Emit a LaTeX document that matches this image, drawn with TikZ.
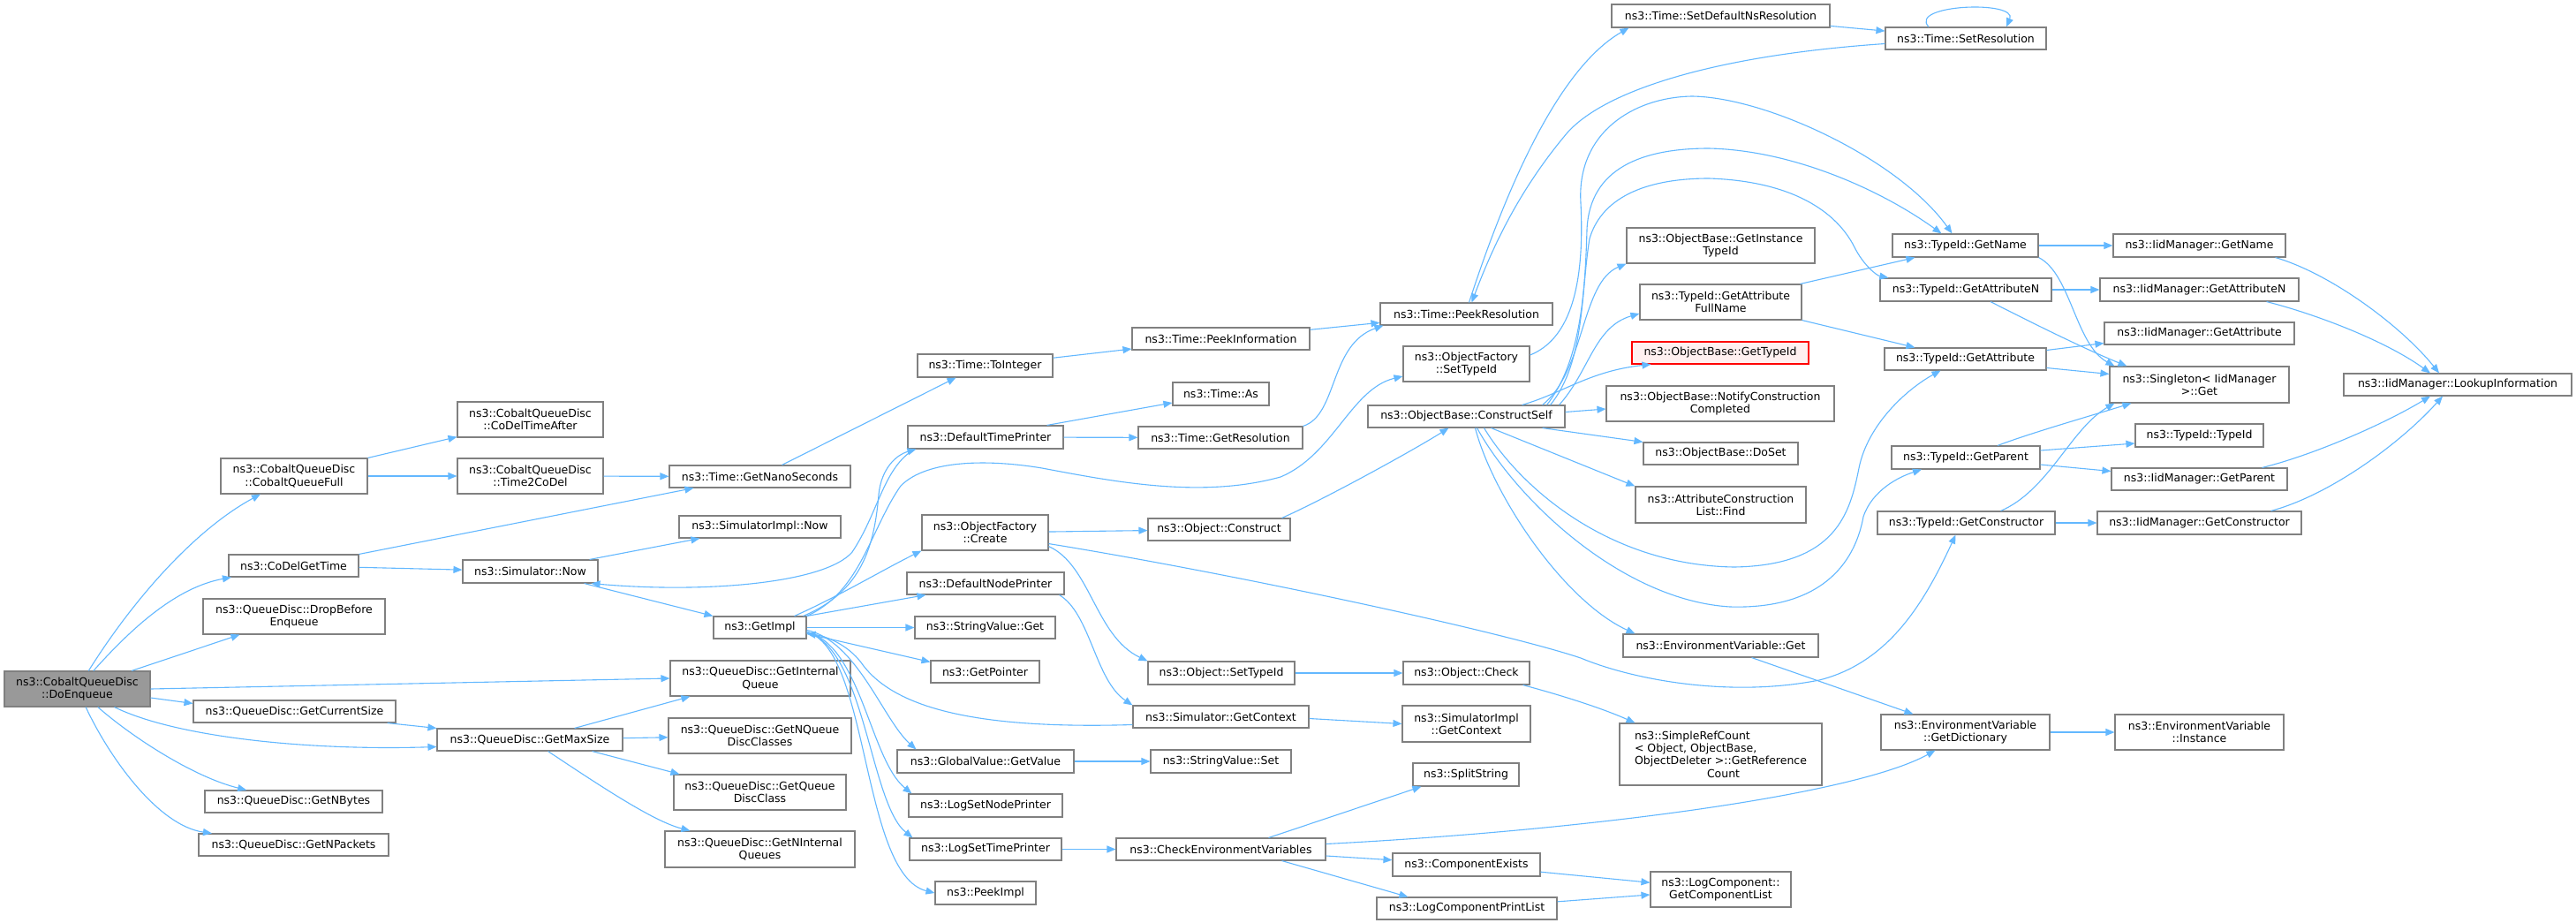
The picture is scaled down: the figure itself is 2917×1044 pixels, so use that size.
\documentclass[tikz,border=0pt]{standalone}
\usepackage{fontspec}
\setmainfont{DejaVu Sans}
\usetikzlibrary{arrows.meta}
\definecolor{edgec}{HTML}{63B8FF}
\definecolor{boxc}{HTML}{808080}
\definecolor{hilite}{HTML}{999999}
\definecolor{redfill}{HTML}{FFF0F0}
\tikzset{
  box/.style={draw=boxc,line width=1.1pt,fill=white,inner sep=0pt,align=center,
    font=\fontsize{12.5}{14.3}\selectfont},
  cur/.style={fill=hilite,draw=boxc},
  redbox/.style={draw=red,fill=redfill},
  e/.style={draw=edgec,line width=1.1pt,-{Triangle[length=10pt,width=8pt]}}
}
\newcommand{\nb}[7][]{\node[box,#1,minimum width={(#5)-(#3)},minimum height={(#6)-(#4)}] (#2) at ({(#3+#5)/2},{(#4+#6)/2}) {#7};}
\begin{document}
\begin{tikzpicture}[x=1pt,y=-1pt]
\fill[white] (0,0) rectangle (2917,1044);
\useasboundingbox (0,0) rectangle (2917,1044);
% column 1-2
\nb[cur]{DoEnqueue}{5}{760}{170}{800}{ns3::CobaltQueueDisc\\::DoEnqueue}
\nb{CobaltQueueFull}{250}{519}{416}{559}{ns3::CobaltQueueDisc\\::CobaltQueueFull}
\nb{CoDelGetTime}{259}{628}{406}{653}{ns3::CoDelGetTime}
\nb{DropBefore}{230}{678}{436}{718}{ns3::QueueDisc::DropBefore\\Enqueue}
\nb{GetCurrentSize}{219}{793}{448}{818}{ns3::QueueDisc::GetCurrentSize}
\nb{GetNBytes}{232}{895}{433}{920}{ns3::QueueDisc::GetNBytes}
\nb{GetNPackets}{225}{944}{440}{969}{ns3::QueueDisc::GetNPackets}
\nb{CoDelTimeAfter}{518}{455}{683}{495}{ns3::CobaltQueueDisc\\::CoDelTimeAfter}
\nb{Time2CoDel}{518}{519}{683}{559}{ns3::CobaltQueueDisc\\::Time2CoDel}
\nb{SimNow}{524}{634}{677}{660}{ns3::Simulator::Now}
\nb{GetMaxSize}{495}{825}{705}{850}{ns3::QueueDisc::GetMaxSize}
% column 3
\nb{GetNanoSeconds}{758}{527}{963}{552}{ns3::Time::GetNanoSeconds}
\nb{SimImplNow}{769}{584}{952}{609}{ns3::SimulatorImpl::Now}
\nb{GetImpl}{808}{698}{913}{723}{ns3::GetImpl}
\nb{GetInternalQueue}{759}{748}{963}{788}{ns3::QueueDisc::GetInternal\\Queue}
\nb{GetNQDC}{757}{813}{964}{853}{ns3::QueueDisc::GetNQueue\\DiscClasses}
\nb{GetQDC}{763}{877}{958}{917}{ns3::QueueDisc::GetQueue\\DiscClass}
\nb{GetNIQ}{753}{941}{968}{982}{ns3::QueueDisc::GetNInternal\\Queues}
% column 4
\nb{ToInteger}{1039}{401}{1192}{427}{ns3::Time::ToInteger}
\nb{DefTimePrinter}{1028}{482}{1204}{508}{ns3::DefaultTimePrinter}
\nb{OFCreate}{1044}{583}{1187}{623}{ns3::ObjectFactory\\::Create}
\nb{DefNodePrinter}{1027}{648}{1205}{673}{ns3::DefaultNodePrinter}
\nb{SVGet}{1036}{698}{1195}{723}{ns3::StringValue::Get}
\nb{GetPointer}{1054}{748}{1177}{773}{ns3::GetPointer}
\nb{GVGetValue}{1016}{849}{1216}{875}{ns3::GlobalValue::GetValue}
\nb{LogSetNodePrinter}{1029}{899}{1203}{925}{ns3::LogSetNodePrinter}
\nb{LogSetTimePrinter}{1030}{949}{1202}{974}{ns3::LogSetTimePrinter}
\nb{PeekImpl}{1059}{998}{1173}{1024}{ns3::PeekImpl}
% column 5
\nb{PeekInformation}{1282}{371}{1483}{396}{ns3::Time::PeekInformation}
\nb{TimeAs}{1328}{433}{1437}{459}{ns3::Time::As}
\nb{GetResolution}{1289}{483}{1475}{508}{ns3::Time::GetResolution}
\nb{ObjConstruct}{1300}{587}{1461}{612}{ns3::Object::Construct}
\nb{ObjSetTypeId}{1300}{749}{1466}{775}{ns3::Object::SetTypeId}
\nb{SimGetContext}{1283}{799}{1482}{824}{ns3::Simulator::GetContext}
\nb{SVSet}{1303}{849}{1462}{875}{ns3::StringValue::Set}
\nb{CheckEnv}{1264}{949}{1501}{974}{ns3::CheckEnvironmentVariables}
% column 6
\nb{PeekResolution}{1563}{343}{1758}{368}{ns3::Time::PeekResolution}
\nb{OFSetTypeId}{1589}{392}{1732}{432}{ns3::ObjectFactory\\::SetTypeId}
\nb{ConstructSelf}{1549}{459}{1772}{484}{ns3::ObjectBase::ConstructSelf}
\nb{ObjCheck}{1589}{749}{1732}{775}{ns3::Object::Check}
\nb{SimImplGetContext}{1588}{799}{1733}{840}{ns3::SimulatorImpl\\::GetContext}
\nb{SplitString}{1600}{864}{1720}{890}{ns3::SplitString}
\nb{ComponentExists}{1577}{966}{1744}{992}{ns3::ComponentExists}
\nb{LogCompPrintList}{1559}{1016}{1763}{1041}{ns3::LogComponentPrintList}
% column 7
\nb{SetDefaultNs}{1825}{5}{2072}{31}{ns3::Time::SetDefaultNsResolution}
\nb{GetInstanceTypeId}{1842}{258}{2055}{298}{ns3::ObjectBase::GetInstance\\TypeId}
\nb{GetAttrFullName}{1857}{322}{2040}{362}{ns3::TypeId::GetAttribute\\FullName}
\nb[redbox]{OBGetTypeId}{1848}{387}{2048}{412}{ns3::ObjectBase::GetTypeId}
\nb{NotifyCC}{1819}{437}{2077}{477}{ns3::ObjectBase::NotifyConstruction\\Completed}
\nb{DoSet}{1861}{501}{2036}{526}{ns3::ObjectBase::DoSet}
\nb{ACLFind}{1852}{551}{2045}{592}{ns3::AttributeConstruction\\List::Find}
\nb{EnvGet}{1838}{718}{2059}{744}{ns3::EnvironmentVariable::Get}
\nb[align=left]{SimpleRefCount}{1834}{819}{2063}{889}{ns3::SimpleRefCount\\{}< Object, ObjectBase,\\ ObjectDeleter >::GetReference\\\hspace*{82pt}Count}
\nb{GetCompList}{1869}{987}{2028}{1027}{ns3::LogComponent::\\GetComponentList}
% column 8
\nb{SetResolution}{2135}{31}{2317}{56}{ns3::Time::SetResolution}
\nb{TIGetName}{2143}{265}{2308}{291}{ns3::TypeId::GetName}
\nb{TIGetAttrN}{2129}{315}{2323}{341}{ns3::TypeId::GetAttributeN}
\nb{TIGetAttr}{2134}{394}{2317}{419}{ns3::TypeId::GetAttribute}
\nb{TIGetParent}{2142}{505}{2310}{531}{ns3::TypeId::GetParent}
\nb{TIGetConstructor}{2126}{579}{2327}{605}{ns3::TypeId::GetConstructor}
\nb{GetDictionary}{2130}{809}{2321}{849}{ns3::EnvironmentVariable\\::GetDictionary}
% column 9
\nb{IidGetName}{2393}{265}{2588}{291}{ns3::IidManager::GetName}
\nb{IidGetAttrN}{2378}{315}{2603}{341}{ns3::IidManager::GetAttributeN}
\nb{IidGetAttr}{2383}{365}{2598}{390}{ns3::IidManager::GetAttribute}
\nb{Singleton}{2389}{415}{2592}{456}{ns3::Singleton< IidManager\\ >::Get}
\nb{TITypeId}{2418}{480}{2563}{506}{ns3::TypeId::TypeId}
\nb{IidGetParent}{2391}{530}{2590}{555}{ns3::IidManager::GetParent}
\nb{IidGetConstructor}{2375}{579}{2606}{605}{ns3::IidManager::GetConstructor}
\nb{EnvInstance}{2395}{809}{2586}{849}{ns3::EnvironmentVariable\\::Instance}
% column 10
\nb{Lookup}{2654}{423}{2912}{448}{ns3::IidManager::LookupInformation}

% ---------------- edges ----------------
% DoEnqueue
\draw[e] (DoEnqueue) .. controls (150,680) and (220,600) .. (CobaltQueueFull);
\draw[e] (DoEnqueue) .. controls (150,710) and (200,665) .. (CoDelGetTime);
\draw[e] (DoEnqueue) -- (DropBefore);
\draw[e] (DoEnqueue.east) -- (GetInternalQueue.west);
\draw[e] ([yshift=-10pt]DoEnqueue.east) -- ([yshift=-4pt]GetCurrentSize.north west);
\draw[e] (DoEnqueue) .. controls (200,835) and (350,850) .. ([yshift=-8pt]GetMaxSize.west);
\draw[e] (DoEnqueue) .. controls (150,835) and (220,880) .. (GetNBytes);
\draw[e] (DoEnqueue) .. controls (125,860) and (180,935) .. (GetNPackets);
% Cobalt
\draw[e] (CobaltQueueFull.north east) -- (CoDelTimeAfter);
\draw[e] (CobaltQueueFull) -- (Time2CoDel);
\draw[e] (Time2CoDel) -- (GetNanoSeconds);
\draw[e] (CoDelGetTime.north east) -- ([xshift=28pt]GetNanoSeconds.south west);
\draw[e] (CoDelGetTime) -- (SimNow);
\draw[e] ([xshift=-10pt]SimNow.north east) -- ([xshift=24pt]SimImplNow.south west);
\draw[e] ([xshift=-16pt]SimNow.south east) -- (GetImpl.north west);
\draw[e] ([xshift=8pt]DefTimePrinter.south west) .. controls (1000,530) and (995,580) .. (965,625) .. controls (935,660) and (800,672) .. ([xshift=-8pt]SimNow.south east);
% GetMaxSize
\draw[e] ([xshift=-10pt]GetCurrentSize.south east) -- (GetMaxSize.north west);
\draw[e] ([xshift=-55pt]GetMaxSize.north east) -- ([xshift=23pt]GetInternalQueue.south west);
\draw[e] (GetMaxSize) -- (GetNQDC);
\draw[e] ([xshift=-35pt]GetMaxSize.south east) -- ([xshift=7pt]GetQDC.north west);
\draw[e] ([xshift=-85pt]GetMaxSize.south east) .. controls (680,890) and (740,930) .. ([xshift=29pt]GetNIQ.north west);
% time
\draw[e] ([xshift=25pt]GetNanoSeconds.north) -- ([xshift=-33pt]ToInteger.south);
\draw[e] (ToInteger) -- (PeekInformation);
\draw[e] (PeekInformation) -- (PeekResolution);
\draw[e] ([xshift=-19pt]DefTimePrinter.north east) -- ([yshift=-10pt]TimeAs.west);
\draw[e] (DefTimePrinter) -- (GetResolution);
\draw[e] (GetResolution.north east) .. controls (1515,470) and (1505,390) .. ([xshift=4pt]PeekResolution.south west);
\draw[e] ([xshift=3pt]PeekResolution.north) .. controls (1700,230) and (1760,80) .. ([xshift=20pt]SetDefaultNs.south west);
\draw[e] (SetDefaultNs) -- (SetResolution);
\draw[e] ([xshift=-42pt]SetResolution.north) .. controls (2160,5) and (2285,0) .. ([xshift=46pt]SetResolution.north);
\draw[e] ([yshift=-6pt]SetResolution.west) .. controls (1950,62) and (1820,100) .. (1775,150) .. controls (1720,215) and (1690,280) .. ([xshift=6pt]PeekResolution.north);
% GetImpl
\draw[e] ([xshift=-4pt]GetImpl.north east) .. controls (975,670) and (990,620) .. (995,560) .. controls (998,530) and (1015,515) .. ([xshift=10pt]DefTimePrinter.south west);
\draw[e] (GetImpl.north east) .. controls (975,670) and (985,600) .. (1020,550) .. controls (1050,520) and (1120,520) .. (1180,530) .. controls (1260,545) and (1360,565) .. (1450,540) .. controls (1510,515) and (1530,440) .. ([yshift=-14pt]OFSetTypeId.west);
\draw[e] ([xshift=-14pt]GetImpl.north east) .. controls (950,675) and (1000,645) .. (OFCreate.south west);
\draw[e] (GetImpl.north east) -- ([xshift=22pt]DefNodePrinter.south west);
\draw[e] (GetImpl) -- (SVGet);
\draw[e] ([yshift=-7pt]GetImpl.east) -- ([yshift=11pt]GetPointer.west);
\draw[e] ([yshift=-3pt]GetImpl.east) .. controls (970,725) and (1000,815) .. ([xshift=22pt]GVGetValue.north west);
\draw[e] ([yshift=-5pt]GetImpl.east) .. controls (975,730) and (985,860) .. ([xshift=4pt]LogSetNodePrinter.north west);
\draw[e] ([yshift=-5pt]GetImpl.east) .. controls (980,735) and (985,910) .. ([xshift=4pt]LogSetTimePrinter.north west);
\draw[e] ([yshift=-5pt]GetImpl.east) .. controls (985,735) and (975,990) .. (PeekImpl.west);
\draw[e] ([yshift=-9pt]SimGetContext.west) .. controls (1100,826) and (1010,800) .. (975,750) .. controls (960,730) and (935,720) .. ([yshift=-7pt]GetImpl.east);
% ObjectFactory
\draw[e] (OFCreate) -- (ObjConstruct);
\draw[e] ([yshift=5pt]OFCreate.south east) .. controls (1235,640) and (1240,720) .. (ObjSetTypeId.north west);
\draw[e] ([yshift=8pt]OFCreate.south east) .. controls (1400,650) and (1700,715) .. (1790,745) .. controls (1850,770) and (1960,790) .. (2060,770) .. controls (2140,750) and (2180,680) .. ([xshift=-12pt]TIGetConstructor.south);
\draw[e] ([xshift=-6pt]DefNodePrinter.south east) .. controls (1235,695) and (1240,770) .. (SimGetContext.north west);
\draw[e] ([yshift=-2pt]SimGetContext.east) -- (SimImplGetContext.west);
\draw[e] (ObjSetTypeId) -- (ObjCheck);
\draw[e] ([xshift=-8pt]ObjCheck.south east) .. controls (1760,785) and (1810,800) .. ([xshift=18pt]SimpleRefCount.north west);
\draw[e] (GVGetValue) -- (SVSet);
\draw[e] (LogSetTimePrinter) -- (CheckEnv);
% CheckEnv
\draw[e] ([xshift=-65pt]CheckEnv.north east) -- ([xshift=10pt]SplitString.south west);
\draw[e] ([yshift=6pt]CheckEnv.east) .. controls (1800,940) and (2100,900) .. ([xshift=62pt]GetDictionary.south west);
\draw[e] (CheckEnv) -- (ComponentExists);
\draw[e] ([xshift=-50pt]CheckEnv.south east) -- ([xshift=36pt]LogCompPrintList.north west);
\draw[e] (ComponentExists) -- (GetCompList);
\draw[e] (LogCompPrintList) -- (GetCompList);
\draw[e] ([xshift=-76pt]EnvGet.south east) -- ([xshift=37pt]GetDictionary.north west);
\draw[e] (GetDictionary) -- (EnvInstance);
% ConstructSelf
\draw[e] ([xshift=-10pt]ObjConstruct.north east) .. controls (1500,565) and (1600,510) .. ([xshift=-20pt]ConstructSelf.south);
\draw[e] ([xshift=-26pt]ConstructSelf.north east) .. controls (1795,420) and (1790,320) .. (GetInstanceTypeId.south west);
\draw[e] ([xshift=-7pt]ConstructSelf.north east) .. controls (1800,420) and (1805,370) .. ([yshift=-13pt]GetAttrFullName.west);
\draw[e] ([xshift=-49pt]ConstructSelf.north east) .. controls (1770,445) and (1800,420) .. ([xshift=22pt]OBGetTypeId.south west);
\draw[e] ([yshift=5pt]ConstructSelf.east) -- ([yshift=-6pt]NotifyCC.west);
\draw[e] ([xshift=-26pt]ConstructSelf.south east) -- (DoSet.north west);
\draw[e] ([xshift=28pt]ConstructSelf.south) -- (ACLFind.north west);
\draw[e] ([xshift=10pt]ConstructSelf.south) .. controls (1690,560) and (1770,680) .. ([xshift=14pt]EnvGet.north west);
\draw[e] ([xshift=20pt]ConstructSelf.south) .. controls (1720,550) and (1820,640) .. (1964,642) .. controls (2080,640) and (2095,580) .. (2105,530) .. controls (2115,480) and (2160,440) .. ([xshift=-28pt]TIGetAttr.south);
\draw[e] ([xshift=12pt]ConstructSelf.south) .. controls (1720,570) and (1840,680) .. (1959,687) .. controls (2060,690) and (2100,640) .. (2110,585) .. controls (2120,555) and (2150,540) .. ([xshift=-50pt]TIGetParent.south);
\draw[e] ([yshift=10pt]OFSetTypeId.east) .. controls (1775,385) and (1795,330) .. (1790,230) .. controls (1785,150) and (1850,110) .. (1916,109) .. controls (2000,110) and (2150,180) .. ([xshift=-15pt]TIGetName.north);
\draw[e] ([xshift=-21pt]ConstructSelf.north east) .. controls (1790,410) and (1795,330) .. (1797,260) .. controls (1800,190) and (1860,168) .. (1935,168) .. controls (2030,170) and (2130,215) .. ([xshift=-27pt]TIGetName.north);
\draw[e] ([xshift=-17pt]ConstructSelf.north east) .. controls (1795,410) and (1790,330) .. (1800,270) .. controls (1815,220) and (1870,202) .. (1935,202) .. controls (2030,205) and (2080,240) .. (2100,280) .. controls (2110,300) and (2125,312) .. ([xshift=10pt]TIGetAttrN.north west);
\draw[e] ([xshift=-2pt]GetAttrFullName.north east) -- ([xshift=26pt]TIGetName.south west);
\draw[e] (GetAttrFullName.south east) -- ([xshift=35pt]TIGetAttr.north west);
% TypeId
\draw[e] (TIGetName) -- (IidGetName);
\draw[e] (TIGetName.south east) .. controls (2345,310) and (2350,390) .. ([xshift=6pt]Singleton.north west);
\draw[e] (TIGetAttrN) -- (IidGetAttrN);
\draw[e] ([xshift=28pt]TIGetAttrN.south) .. controls (2290,360) and (2360,395) .. ([xshift=20pt]Singleton.north west);
\draw[e] ([yshift=10pt]TIGetAttr.east) -- ([yshift=-11pt]IidGetAttr.west);
\draw[e] ([yshift=-10pt]TIGetAttr.east) -- ([yshift=12pt]Singleton.west);
\draw[e] ([yshift=8pt]TIGetParent.east) -- ([yshift=-9pt]TITypeId.west);
\draw[e] ([yshift=-8pt]TIGetParent.east) -- ([yshift=9pt]IidGetParent.west);
\draw[e] ([xshift=36pt]TIGetParent.north) .. controls (2300,490) and (2370,470) .. ([xshift=25pt]Singleton.south west);
\draw[e] (TIGetConstructor) -- (IidGetConstructor);
\draw[e] ([xshift=39pt]TIGetConstructor.north) .. controls (2320,555) and (2345,485) .. ([xshift=6pt]Singleton.south west);
% IidManager
\draw[e] ([xshift=-12pt]IidGetName.south east) .. controls (2640,310) and (2720,370) .. ([xshift=-21pt]Lookup.north);
\draw[e] ([xshift=-37pt]IidGetAttrN.south east) .. controls (2620,355) and (2700,385) .. ([xshift=-31pt]Lookup.north);
\draw[e] ([xshift=-29pt]IidGetParent.north east) .. controls (2620,515) and (2700,480) .. ([xshift=-31pt]Lookup.south);
\draw[e] ([xshift=-35pt]IidGetConstructor.north east) .. controls (2640,560) and (2720,500) .. ([xshift=-17pt]Lookup.south);
\end{tikzpicture}
\end{document}
